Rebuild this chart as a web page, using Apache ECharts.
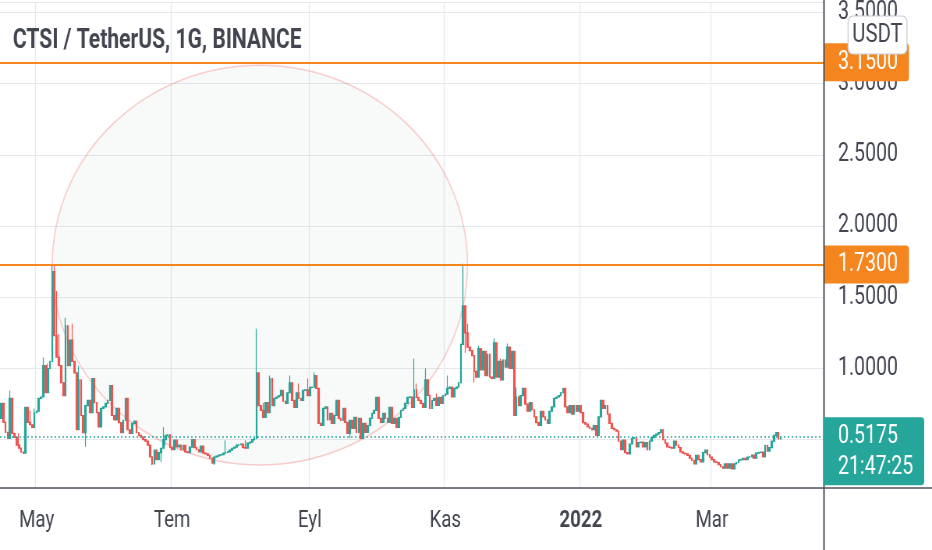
<!DOCTYPE html>
<html><head><meta charset="utf-8">
<script src="https://cdn.jsdelivr.net/npm/echarts@6/dist/echarts.min.js"></script>
<style>
html,body{margin:0;padding:0;background:#fff;overflow:hidden}
#wrap{width:932px;height:550px;overflow:hidden;position:relative}
#c{width:1195px;height:550px;transform:scaleX(0.77992);transform-origin:0 0}
</style>
</head><body><div id="wrap"><div id="c"></div></div>
<script>
// ---------- data ----------
const startDate = '2021-04-15';
const emptyDaysAfter = 19;
const firstOpen = 0.65;
const closes = [
0.755,0.622,0.552,0.510,0.79,0.545,0.517,0.462,0.441,0.413,
0.406,0.727,0.622,0.605,0.587,0.69,0.70,0.79,0.80,1.02,
0.83,1.00,1.05,1.68,1.23,1.08,1.02,0.90,0.81,1.30,
1.02,1.20,1.05,0.97,0.57,0.92,0.67,0.55,0.74,0.776,
0.69,0.93,0.76,0.69,0.59,0.72,0.73,0.755,0.776,0.88,
0.67,0.64,0.72,0.62,0.55,0.636,0.79,0.57,0.545,0.615,
0.63,0.55,0.53,0.52,0.50,0.49,0.462,0.38,0.33,0.427,
0.36,0.41,0.44,0.50,0.53,0.535,0.445,0.43,0.497,0.45,
0.462,0.43,0.46,0.415,0.41,0.448,0.50,0.445,0.43,0.415,
0.455,0.406,0.40,0.39,0.37,0.336,0.378,0.385,0.392,0.395,
0.406,0.41,0.415,0.427,0.44,0.448,0.462,0.465,0.47,0.445,
0.441,0.476,0.483,0.50,0.51,0.97,0.74,0.706,0.657,0.76,
0.69,0.93,0.74,0.79,0.80,0.81,0.846,0.77,0.755,0.83,
0.90,0.776,0.727,0.83,0.79,0.776,0.846,0.85,0.81,0.867,
0.87,0.95,0.86,0.615,0.60,0.72,0.73,0.64,0.685,0.615,
0.671,0.776,0.65,0.636,0.72,0.622,0.545,0.636,0.58,0.657,
0.552,0.65,0.51,0.615,0.552,0.60,0.65,0.685,0.706,0.797,
0.65,0.622,0.685,0.65,0.622,0.727,0.615,0.65,0.587,0.657,
0.706,0.72,0.755,0.797,0.80,0.727,0.85,0.797,0.776,0.755,
0.727,0.92,0.811,0.72,0.776,0.79,0.741,0.797,0.755,0.81,
0.82,0.86,0.87,0.80,0.86,0.87,0.90,1.17,1.44,1.25,
1.15,1.126,1.09,0.98,0.94,1.14,0.99,1.12,0.95,1.10,
0.94,0.93,1.18,0.94,1.05,0.92,1.06,1.01,1.15,1.00,
1.12,0.67,0.80,0.74,0.81,0.86,0.75,0.70,0.76,0.71,
0.66,0.62,0.60,0.70,0.66,0.64,0.615,0.70,
0.73,0.79,0.80,0.81,0.83,0.86,0.73,0.69,0.74,0.68,
0.74,0.70,0.74,0.69,0.62,0.61,0.59,0.58,0.57,
0.60,0.53,0.66,0.776,0.72,0.74,0.68,0.615,0.58,
0.57,0.56,0.49,0.43,0.497,0.41,0.40,0.47,0.51,0.515,
0.45,0.48,0.483,0.45,0.48,0.43,0.49,0.515,0.53,
0.54,0.55,0.57,0.50,0.476,0.45,0.445,0.44,
0.49,0.462,0.445,0.415,0.405,0.40,0.39,0.37,0.355,
0.33,0.39,0.36,0.345,0.41,0.427,0.395,0.378,0.36,0.345,
0.34,0.325,0.31,0.30,0.33,0.30,0.33,0.295,0.33,
0.34,0.357,0.36,0.37,0.36,0.378,0.38,0.392,0.37,
0.406,0.41,0.413,0.38,0.46,0.42,0.445,0.49,0.53,0.55,0.505,0.5175
];
const wickHighs = {4:0.846,8:0.545,13:0.706,15:0.72,19:1.077,21:1.035,23:1.735,24:1.73,25:1.545,26:1.245,29:1.357,32:1.315,35:1.02,73:0.587,101:0.497,110:0.497,115:1.28,118:0.76,121:0.951,130:0.951,134:0.895,138:0.93,141:0.972,186:1.07,187:0.895,191:1.0,196:0.825,201:0.951,208:1.735,210:1.315,215:1.16,222:1.21,225:1.07,228:1.175,232:0.867,350:0.555,351:0.525};
const wickLows = {10:0.40,38:0.45,68:0.322,72:0.343,74:0.46,96:0.322,157:0.51,209:1.11,213:0.90,232:0.70};
const levels = [3.15, 1.73];
const lastPrice = 0.5175;
const countdown = '21:47:25';
const circleAnchors = [['2021-05-08', 3.13], ['2021-11-11', 0.322]];
const monthNames = ['Oca','Şub','Mar','Nis','May','Haz','Tem','Ağu','Eyl','Eki','Kas','Ara'];
const labeledMonths = [1, 3, 5, 7, 9, 11];
const titleText = 'CTSI / TetherUS, 1G, BINANCE';
const currency = 'USDT';
const yMin = 0.161, yMax = 3.573;

// ---------- build ----------
// the reference picture is horizontally compressed; the canvas is drawn wider and squeezed by CSS (k)
const k = 0.77992;
const sx = (px) => px / k;   // horizontal screen px -> chart px
const FONT = "Roboto,'Noto Sans',sans-serif";
const UP = '#26a69a', DOWN = '#ef5350', ORANGE = '#f5861f', TXT = '#434651', GRIDC = '#e6e8ee';
const GRID = {left: 0, right: sx(108), top: 0, bottom: 62};

function buildDates(start, n) {
  const out = []; const d = new Date(start + 'T00:00:00Z');
  for (let i = 0; i < n; i++) { out.push(d.toISOString().slice(0, 10)); d.setUTCDate(d.getUTCDate() + 1); }
  return out;
}
const dates = buildDates(startDate, closes.length + emptyDaysAfter);
const candles = closes.map((c, i) => {
  const o = i === 0 ? firstOpen : closes[i - 1];
  let h = Math.max(o, c), l = Math.min(o, c);
  if (wickHighs[i] != null) h = Math.max(h, wickHighs[i]);
  if (wickLows[i] != null) l = Math.min(l, wickLows[i]);
  return [o, c, l, h];
});
const isLabelDate = (v) => v.slice(8) === '01' && labeledMonths.includes(+v.slice(5, 7));
const fmtDate = (v) => { const m = +v.slice(5, 7); return m === 1 ? '{b|' + v.slice(0, 4) + '}' : monthNames[m - 1]; };
const ellipseData = [[dates.indexOf(circleAnchors[0][0]), circleAnchors[0][1], dates.indexOf(circleAnchors[1][0]), circleAnchors[1][1]]];

const chart = echarts.init(document.getElementById('c'), null, {renderer: 'canvas'});
chart.setOption({
  animation: false,
  backgroundColor: '#fff',
  textStyle: {fontFamily: FONT},
  title: {text: titleText, left: sx(9), top: 23, textStyle: {fontFamily: FONT, fontSize: 27, fontWeight: 'bold', color: TXT}},
  grid: {left: GRID.left, right: GRID.right, top: GRID.top, bottom: GRID.bottom, containLabel: false},
  xAxis: {
    type: 'category', data: dates, boundaryGap: true,
    axisLine: {show: false}, axisTick: {show: false},
    axisLabel: {interval: (i, v) => isLabelDate(v), formatter: fmtDate, margin: 21, fontSize: 24, color: TXT, fontFamily: FONT,
      rich: {b: {fontWeight: 'bold', fontSize: 24, color: TXT, fontFamily: FONT}}},
    splitLine: {show: true, interval: (i, v) => isLabelDate(v), lineStyle: {color: GRIDC, width: 1.3}}
  },
  yAxis: {
    type: 'value', position: 'right', min: yMin, max: yMax, minInterval: 0.5, maxInterval: 0.5,
    axisLine: {show: false}, axisTick: {show: false},
    axisLabel: {margin: sx(14), fontSize: 25, color: TXT, fontFamily: FONT, formatter: (v) => v.toFixed(4), showMinLabel: false, showMaxLabel: false},
    splitLine: {lineStyle: {color: GRIDC, width: 1}}
  },
  series: [
    {
      type: 'custom', silent: true, z: 1, data: ellipseData,
      encode: {x: [0, 2], y: [1, 3]},
      renderItem: (params, api) => {
        const a = api.coord([api.value(0), api.value(1)]);
        const b = api.coord([api.value(2), api.value(3)]);
        return {type: 'ellipse', shape: {cx: (a[0] + b[0]) / 2, cy: (a[1] + b[1]) / 2, rx: Math.abs(b[0] - a[0]) / 2, ry: Math.abs(b[1] - a[1]) / 2},
          style: {fill: 'rgba(90,150,120,0.045)', stroke: 'rgba(239,83,80,0.28)', lineWidth: 1.6}};
      }
    },
    {
      type: 'candlestick', z: 3, data: candles, barWidth: 2.2,
      itemStyle: {color: UP, color0: DOWN, borderColor: UP, borderColor0: DOWN, borderWidth: 1.2},
      markLine: {
        silent: true, symbol: ['none', 'none'], animation: false,
        data: [
          ...levels.map(v => ({yAxis: v, lineStyle: {color: ORANGE, width: 2, type: 'solid'},
            label: {show: true, position: 'end', distance: 0, formatter: (p) => p.value.toFixed(4),
              backgroundColor: ORANGE, color: '#fff', fontSize: 25, lineHeight: 22, fontFamily: FONT,
              padding: [8, sx(11), 8, sx(14)], borderRadius: [0, 4, 4, 0]}})),
          {yAxis: lastPrice, lineStyle: {color: UP, width: 1.5, type: [2, 3]}, label: {show: false}}
        ]
      }
    }
  ]
});

const W = chart.getWidth(), H = chart.getHeight();
const axisX = W - GRID.right, axisY = H - GRID.bottom;
const yLast = chart.convertToPixel({yAxisIndex: 0}, lastPrice);
chart.setOption({
  graphic: [
    {type: 'line', z: 100, silent: true, shape: {x1: axisX, y1: 0, x2: axisX, y2: H}, style: {stroke: '#50535e', lineWidth: 2}},
    {type: 'line', z: 100, silent: true, shape: {x1: 0, y1: axisY, x2: W, y2: axisY}, style: {stroke: '#50535e', lineWidth: 1.5}},
    {type: 'rect', z: 101, silent: true, shape: {x: axisX - 1, y: yLast - 20, width: sx(101), height: 68, r: [0, 4, 4, 0]}, style: {fill: UP}},
    {type: 'text', z: 102, silent: true, x: axisX + sx(14), y: yLast, style: {text: lastPrice.toFixed(4), fill: '#fff', fontSize: 25, fontFamily: FONT, verticalAlign: 'middle', align: 'left'}},
    {type: 'text', z: 102, silent: true, x: axisX + sx(14), y: yLast + 31, style: {text: countdown, fill: '#fff', fontSize: 25, fontFamily: FONT, verticalAlign: 'middle', align: 'left'}},
    {type: 'rect', z: 103, silent: true, shape: {x: axisX + sx(24), y: 16, width: sx(59), height: 38, r: 6}, style: {fill: '#fff', stroke: '#c9ccd3', lineWidth: 1.2}},
    {type: 'text', z: 104, silent: true, x: axisX + sx(24 + 29.5), y: 35, style: {text: currency, fill: TXT, fontSize: 26, fontFamily: FONT, verticalAlign: 'middle', align: 'center'}}
  ]
});
</script></body></html>
